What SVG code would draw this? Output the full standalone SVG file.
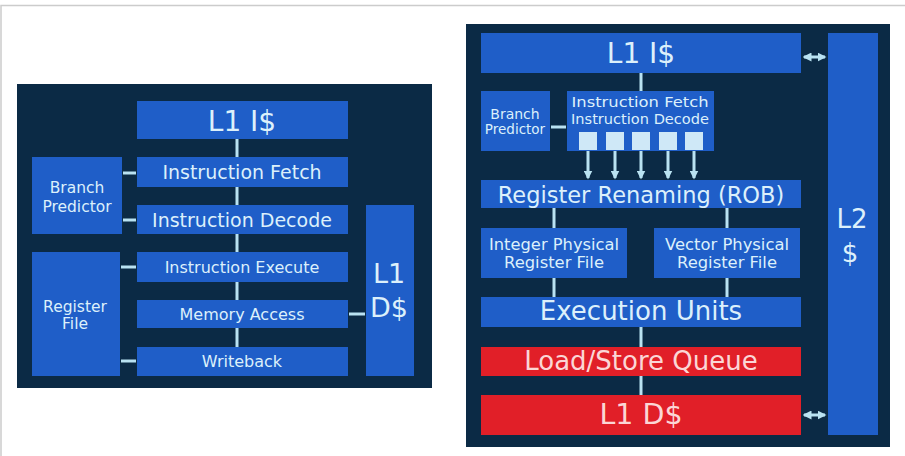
<svg xmlns="http://www.w3.org/2000/svg" width="905" height="456" viewBox="0 0 905 456">
<defs>
<marker id="ah" viewBox="0 0 6 6" refX="5" refY="3" markerWidth="3" markerHeight="3" orient="auto-start-reverse">
<path d="M0,0 L6,3 L0,6 Z" fill="#b9e2f2"/>
</marker>
<style>
.panel{fill:#0b2a45}
.box{fill:#1f5ec8}
.red{fill:#e11f28}
.sq{fill:#cfe8f7}
.t{font-family:"DejaVu Sans","Liberation Sans",sans-serif;fill:#dcf0fb;text-anchor:middle}
.tr{font-family:"DejaVu Sans","Liberation Sans",sans-serif;fill:#fbd6d6;text-anchor:middle}
.c{stroke:#b9e2f2;stroke-width:3;fill:none}
.a{stroke:#b9e2f2;stroke-width:3;fill:none;marker-end:url(#ah)}
.d{stroke:#b9e2f2;stroke-width:3;fill:none;marker-end:url(#ah);marker-start:url(#ah)}
</style>
</defs>
<rect x="0" y="0" width="905" height="456" fill="#ffffff"/>
<path d="M1,456 V5.5 H905" stroke="#cccccc" stroke-width="1.5" fill="none"/>

<rect class="panel" x="17" y="84" width="415" height="304"/>
<rect class="panel" x="466" y="24" width="424" height="423"/>

<g id="connectors">
<line class="c" x1="237" y1="139" x2="237" y2="157"/>
<line class="c" x1="237" y1="187" x2="237" y2="205"/>
<line class="c" x1="237" y1="234" x2="237" y2="252"/>
<line class="c" x1="237" y1="282" x2="237" y2="300"/>
<line class="c" x1="237" y1="328" x2="237" y2="347"/>
<line class="c" x1="123" y1="173" x2="136" y2="173"/>
<line class="c" x1="123" y1="220" x2="136" y2="220"/>
<line class="c" x1="121" y1="267" x2="136" y2="267"/>
<line class="c" x1="121" y1="361" x2="136" y2="361"/>
<line class="c" x1="349" y1="314" x2="365" y2="314"/>

<line class="c" x1="641" y1="73" x2="641" y2="91"/>
<line class="c" x1="551" y1="127" x2="566" y2="127"/>
<line class="a" x1="588" y1="140" x2="588" y2="178"/>
<line class="a" x1="615" y1="140" x2="615" y2="178"/>
<line class="a" x1="641" y1="140" x2="641" y2="178"/>
<line class="a" x1="668" y1="140" x2="668" y2="178"/>
<line class="a" x1="694" y1="140" x2="694" y2="178"/>
<line class="c" x1="554" y1="208" x2="554" y2="228"/>
<line class="c" x1="727" y1="208" x2="727" y2="228"/>
<line class="c" x1="554" y1="278" x2="554" y2="297"/>
<line class="c" x1="727" y1="278" x2="727" y2="297"/>
<line class="c" x1="641" y1="327" x2="641" y2="347"/>
<line class="c" x1="641" y1="376" x2="641" y2="395"/>
<line class="d" x1="804" y1="57" x2="825" y2="57"/>
<line class="d" x1="804" y1="415" x2="825" y2="415"/>
</g>

<g id="l-l1i"><rect class="box" x="137" y="101" width="211" height="38"/><text class="t" x="242" y="131" font-size="28">L1 I$</text></g>
<g id="l-if"><rect class="box" x="137" y="157" width="211" height="30"/><text class="t" x="242" y="179" font-size="19">Instruction Fetch</text></g>
<g id="l-id"><rect class="box" x="137" y="205" width="211" height="29"/><text class="t" x="242" y="227" font-size="19">Instruction Decode</text></g>
<g id="l-ie"><rect class="box" x="137" y="252" width="211" height="30"/><text class="t" x="242" y="273" font-size="16">Instruction Execute</text></g>
<g id="l-ma"><rect class="box" x="137" y="300" width="211" height="28"/><text class="t" x="242" y="320" font-size="16">Memory Access</text></g>
<g id="l-wb"><rect class="box" x="137" y="347" width="211" height="29"/><text class="t" x="242" y="367" font-size="16">Writeback</text></g>
<g id="l-bp"><rect class="box" x="32" y="157" width="90" height="77"/><text class="t" x="77" y="193" font-size="15.5">Branch</text><text class="t" x="77" y="212" font-size="15.5">Predictor</text></g>
<g id="l-rf"><rect class="box" x="32" y="252" width="88" height="124"/><text class="t" x="75" y="312" font-size="15.5">Register</text><text class="t" x="75" y="329" font-size="15.5">File</text></g>
<g id="l-l1d"><rect class="box" x="366" y="205" width="48" height="171"/><text class="t" x="389" y="283" font-size="27">L1</text><text class="t" x="389" y="317" font-size="27">D$</text></g>

<g id="r-l1i"><rect class="box" x="481" y="33" width="320" height="40"/><text class="t" x="641" y="63" font-size="28">L1 I$</text></g>
<g id="r-l2"><rect class="box" x="828" y="33" width="50" height="402"/><text class="t" x="852" y="228" font-size="26">L2</text><text class="t" x="850" y="262" font-size="26">$</text></g>
<g id="r-bp"><rect class="box" x="481" y="91" width="69" height="60"/><text class="t" x="515" y="119" font-size="14">Branch</text><text class="t" x="515" y="134" font-size="13.5">Predictor</text></g>
<g id="r-ifid"><rect class="box" x="567" y="91" width="147" height="60"/>
<text class="t" x="640" y="107" font-size="14.5" textLength="137" lengthAdjust="spacingAndGlyphs">Instruction Fetch</text>
<text class="t" x="640" y="124" font-size="14.5" textLength="138" lengthAdjust="spacingAndGlyphs">Instruction Decode</text>
<rect class="sq" x="579" y="132" width="18" height="18"/>
<rect class="sq" x="606" y="132" width="18" height="18"/>
<rect class="sq" x="632" y="132" width="18" height="18"/>
<rect class="sq" x="659" y="132" width="18" height="18"/>
<rect class="sq" x="685" y="132" width="18" height="18"/>
</g>
<g id="r-rr"><rect class="box" x="481" y="180" width="320" height="28"/><text class="t" x="641" y="203" font-size="22.5">Register Renaming (ROB)</text></g>
<g id="r-iprf"><rect class="box" x="481" y="228" width="146" height="50"/><text class="t" x="554" y="250" font-size="15" textLength="130" lengthAdjust="spacingAndGlyphs">Integer Physical</text><text class="t" x="554" y="268" font-size="15" textLength="100" lengthAdjust="spacingAndGlyphs">Register File</text></g>
<g id="r-vprf"><rect class="box" x="654" y="228" width="146" height="50"/><text class="t" x="727" y="250" font-size="15" textLength="124" lengthAdjust="spacingAndGlyphs">Vector Physical</text><text class="t" x="727" y="268" font-size="15" textLength="100" lengthAdjust="spacingAndGlyphs">Register File</text></g>
<g id="r-eu"><rect class="box" x="481" y="297" width="320" height="30"/><text class="t" x="641" y="320" font-size="26">Execution Units</text></g>
<g id="r-lsq"><rect class="red" x="481" y="347" width="320" height="29"/><text class="tr" x="641" y="370" font-size="26">Load/Store Queue</text></g>
<g id="r-l1d"><rect class="red" x="481" y="395" width="320" height="40"/><text class="tr" x="641" y="424" font-size="28.5">L1 D$</text></g>
</svg>
